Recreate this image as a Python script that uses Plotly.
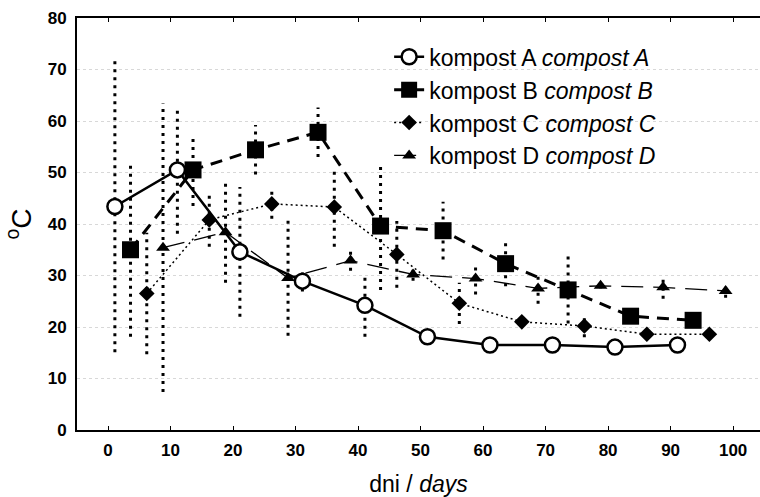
import plotly.graph_objects as go

# ---- data ----
days_A = [1.1, 11.1, 21.1, 31.1, 41.1, 51.1, 61.1, 71.1, 81.1, 91.1]
temp_A = [43.4, 50.5, 34.6, 28.9, 24.2, 18.1, 16.5, 16.5, 16.1, 16.5]
err_A = [28.3, 12.4, 12.6, 2.0, 6.1, 0.6, 0.5, 0.5, 0.5, 0.5]

days_B = [3.6, 13.6, 23.6, 33.6, 43.6, 53.6, 63.6, 73.6, 83.6, 93.6]
temp_B = [35.0, 50.5, 54.4, 57.8, 39.6, 38.7, 32.3, 27.2, 22.1, 21.3]
err_B = [16.9, 7.0, 4.8, 4.8, 12.4, 5.6, 4.4, 6.5, 0.6, 0.5]

days_C = [6.2, 16.2, 26.2, 36.2, 46.2, 56.2, 66.2, 76.2, 86.2, 96.2]
temp_C = [26.5, 40.8, 43.9, 43.3, 34.1, 24.6, 21.0, 20.2, 18.6, 18.6]
err_C = [11.8, 5.2, 2.9, 7.7, 6.5, 4.0, 1.0, 2.2, 0.7, 0.7]

days_D = [8.8, 18.8, 28.8, 38.8, 48.8, 58.8, 68.8, 78.8, 88.8, 98.8]
temp_D = [35.4, 38.4, 29.5, 32.9, 30.2, 29.4, 27.5, 28.0, 27.7, 27.0]
err_D = [28.0, 9.8, 11.2, 2.0, 1.2, 3.1, 3.0, 0.5, 2.2, 1.3]

names = ["kompost A <i>compost A</i>", "kompost B <i>compost B</i>",
         "kompost C <i>compost C</i>", "kompost D <i>compost D</i>"]

x_ticks = [0, 10, 20, 30, 40, 50, 60, 70, 80, 90, 100]
y_ticks = [0, 10, 20, 30, 40, 50, 60, 70, 80]

series = [
    (days_A, temp_A, err_A, names[0],
     dict(color="black", width=2.5, dash="solid"),
     dict(symbol="circle", size=15, color="white", line=dict(color="black", width=2.5))),
    (days_B, temp_B, err_B, names[1],
     dict(color="black", width=3, dash="12px,8px"),
     dict(symbol="square", size=17, color="black", line=dict(color="black", width=0))),
    (days_C, temp_C, err_C, names[2],
     dict(color="black", width=1.5, dash="2px,3px"),
     dict(symbol="diamond", size=12, color="black", line=dict(color="black", width=0))),
    (days_D, temp_D, err_D, names[3],
     dict(color="black", width=1.3, dash="22px,10px"),
     dict(symbol="triangle-up", size=12, color="black", line=dict(color="black", width=0))),
]

fig = go.Figure()

# dotted error bars
for xs, ys, es, _, _, _ in series:
    ex, ey = [], []
    for x, y, e in zip(xs, ys, es):
        ex += [x, x, None]
        ey += [y - e, y + e, None]
    fig.add_trace(go.Scatter(x=ex, y=ey, mode="lines", showlegend=False,
                             hoverinfo="skip",
                             line=dict(color="black", width=3, dash="3px,5px")))

for xs, ys, es, nm, ln, mk in series:
    fig.add_trace(go.Scatter(x=xs, y=ys, mode="lines+markers", name=nm,
                             line=ln, marker=mk))

fig.update_layout(
    width=760, height=497,
    margin=dict(l=77, r=0, t=18, b=67, autoexpand=False),
    paper_bgcolor="white", plot_bgcolor="white",
    font=dict(family="Liberation Sans, Arial, sans-serif", color="black"),
    showlegend=True,
    legend=dict(x=0.457, y=0.958, xanchor="left", yanchor="top",
                font=dict(size=23), bgcolor="rgba(0,0,0,0)",
                itemwidth=30, tracegroupgap=0),
    xaxis=dict(range=[-4.96, 104.3], tickvals=x_ticks,
               ticktext=[f"<b>{v}</b>" for v in x_ticks],
               tickfont=dict(size=17), ticks="inside", ticklen=4,
               tickwidth=1, tickcolor="black", ticklabelstandoff=4,
               showline=True, linecolor="black", linewidth=2, mirror="ticks",
               showgrid=False, zeroline=False, automargin=False,
               title=dict(text="dni / <i>days</i>", font=dict(size=23), standoff=20)),
    yaxis=dict(range=[0, 80], tickvals=y_ticks,
               ticktext=[f"<b>{v}</b>" for v in y_ticks],
               tickfont=dict(size=17), ticks="", ticklabelstandoff=5,
               showline=True, linecolor="black", linewidth=2,
               showgrid=True, gridcolor="#d8d8d8", griddash="dot", gridwidth=1,
               zeroline=False, automargin=False,
               title=dict(text="<sup>o</sup>C", font=dict(size=28), standoff=8)),
)

fig.write_html("out.html", config={"displayModeBar": False},
               post_script="document.body.style.margin='0';")
